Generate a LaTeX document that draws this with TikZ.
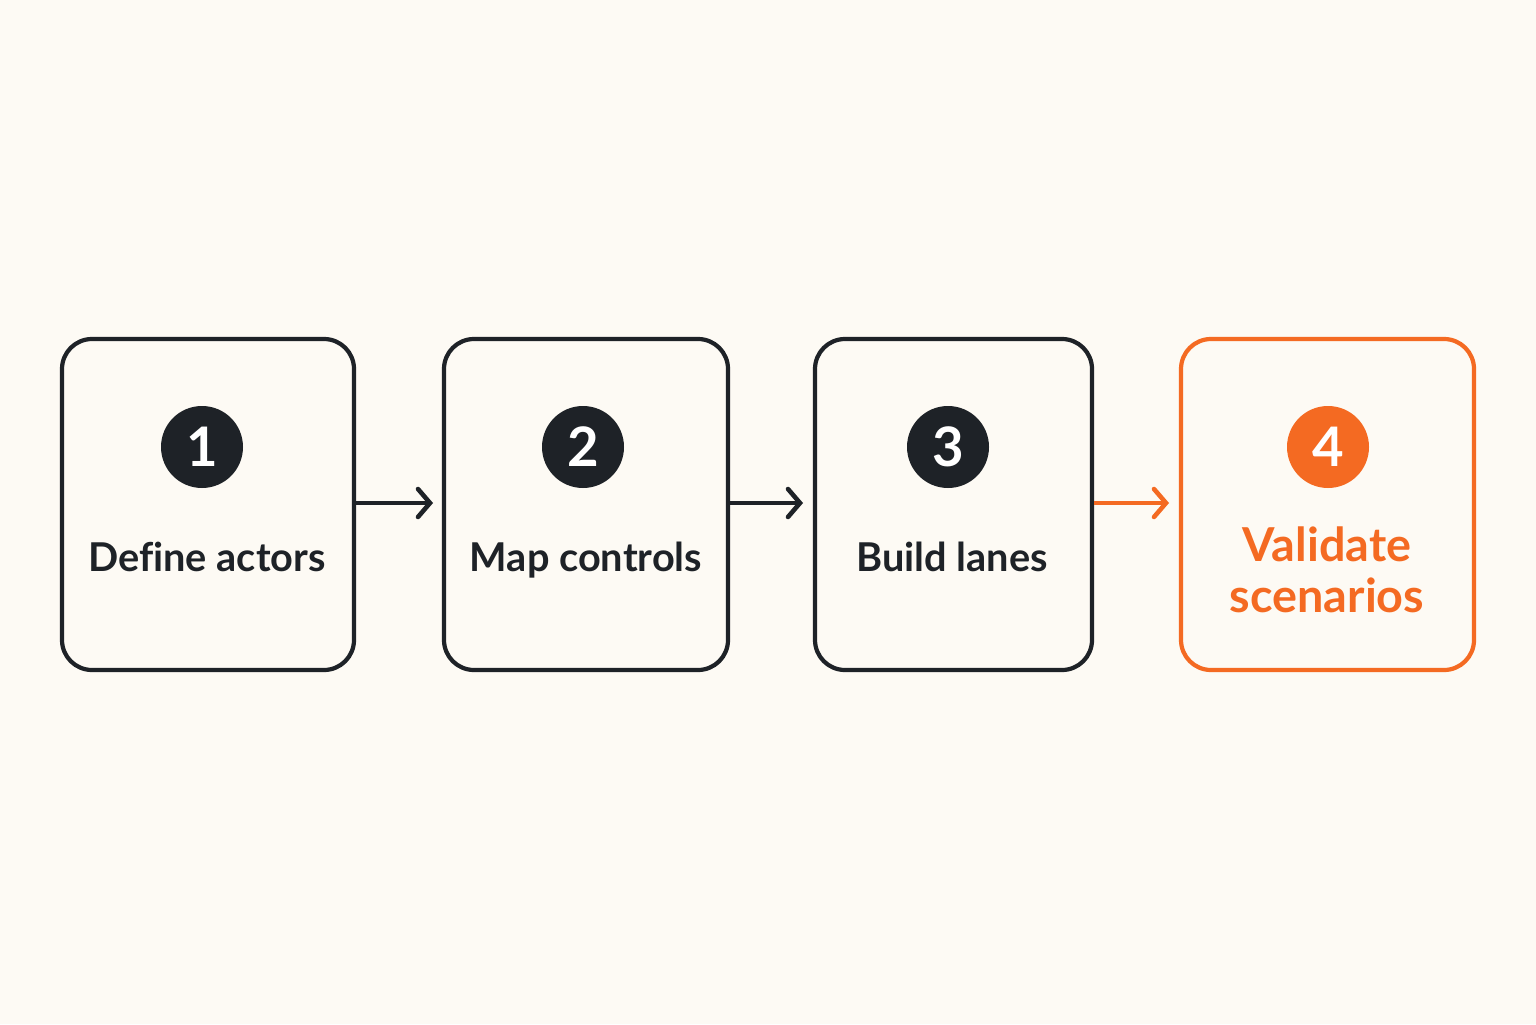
\documentclass[tikz,border=0pt]{standalone}
\usepackage{fontspec}
\setmainfont[Ligatures=NoCommon]{Lato}
\usetikzlibrary{arrows.meta}
\definecolor{bgcol}{HTML}{FDFAF4}
\definecolor{ink}{HTML}{1E2227}
\definecolor{accent}{HTML}{F46A22}
\tikzset{
  stepbox/.style={draw=ink,line width=1.2pt,rounded corners=0.3cm,minimum height=3.31cm,inner sep=0pt},
  numdot/.style={circle,fill=ink,text=white,minimum size=0.82cm,inner sep=0pt,font=\bfseries\fontsize{15.5}{15.5}\selectfont},
  steplabel/.style={text=ink,anchor=base,font=\bfseries\fontsize{11.3}{14}\selectfont,align=center},
  flow/.style={-{Straight Barb[length=1.2mm,width=2.8mm,line cap=round,line width=1.3pt]},line width=1.1pt,draw=ink}
}
\begin{document}
\begin{tikzpicture}
\fill [bgcol] (0,0) rectangle (15.36,10.24);
\useasboundingbox (0,0) rectangle (15.36,10.24);
% boxes
\node (box1) [stepbox,minimum width=2.92cm] at (2.08,5.195) {};
\node (box2) [stepbox,minimum width=2.84cm] at (5.86,5.195) {};
\node (box3) [stepbox,minimum width=2.77cm] at (9.535,5.195) {};
\node (box4) [stepbox,draw=accent,minimum width=2.93cm] at (13.275,5.195) {};
% numbers
\node (num1) [numdot] at (2.02,5.77) {1};
\node (num2) [numdot] at (5.83,5.77) {2};
\node (num3) [numdot] at (9.48,5.77) {3};
\node (num4) [numdot,fill=accent] at (13.28,5.77) {4};
% labels
\node (lab1) [steplabel] at (2.07,4.53) {Define actors};
\node (lab2) [steplabel] at (5.86,4.53) {Map controls};
\node (lab3) [steplabel] at (9.52,4.53) {Build lanes};
\node (lab4) [steplabel,anchor=center,text=accent,font=\bfseries\fontsize{13.3}{14.6}\selectfont] at (13.27,4.54) {Validate\\scenarios};
% connectors
\coordinate (end1) at (4.33,5.21);
\coordinate (end2) at (8.03,5.21);
\coordinate (end3) at (11.69,5.21);
\draw [flow] (box1.east |- end1) -- (end1);
\draw [flow] (box2.east |- end2) -- (end2);
\draw [flow,draw=accent] (box3.east |- end3) -- (end3);
\end{tikzpicture}
\end{document}
